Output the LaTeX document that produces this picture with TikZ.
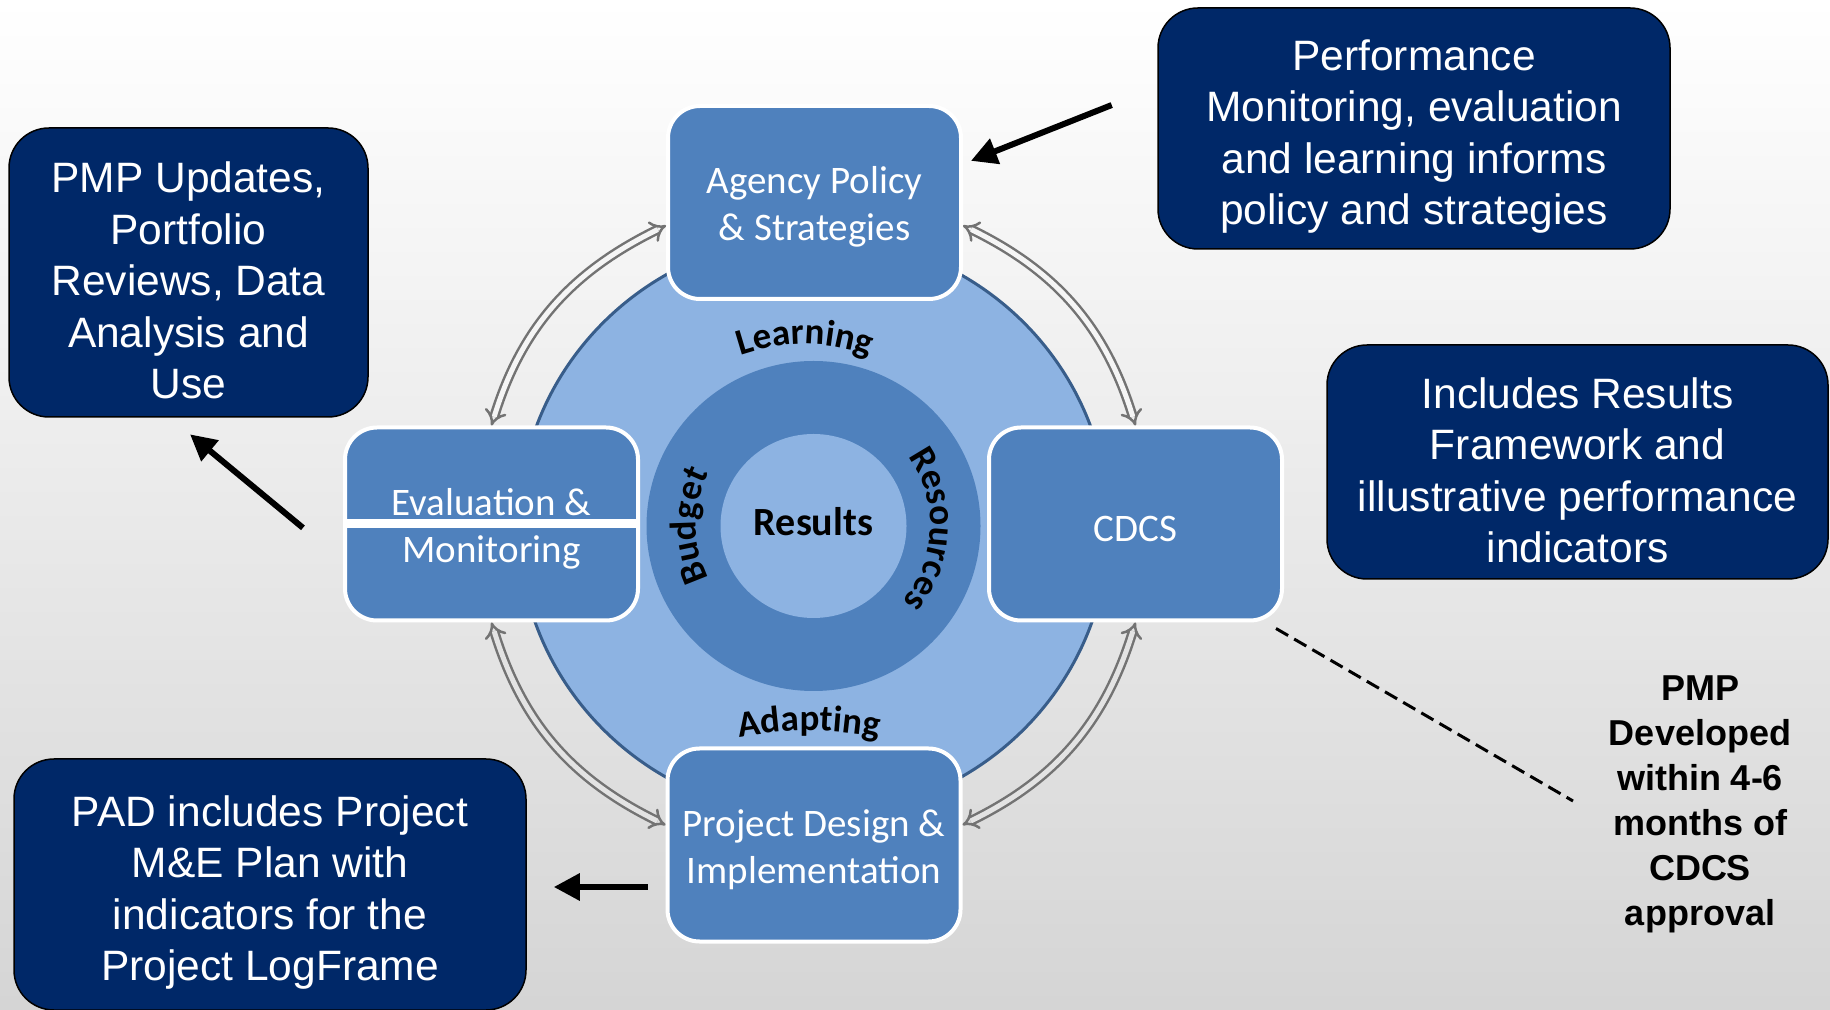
\documentclass[tikz,border=0pt]{standalone}
\usepackage{fontspec}
\setmainfont{Liberation Sans}
\newfontfamily\calfont{Carlito}
\usetikzlibrary{arrows.meta,decorations.text,calc}
\definecolor{boxblue}{HTML}{4F81BD}
\definecolor{lightblue}{HTML}{8DB3E2}
\definecolor{navy}{HTML}{002868}
\definecolor{ringedge}{HTML}{385D8A}
\definecolor{arcgray}{HTML}{737373}
\newcommand\boxfont{\calfont\fontsize{39}{47}\selectfont}
\newcommand\darkfont{\fontsize{42.5}{51.5}\selectfont}
\newcommand\curvefont{\calfont\bfseries\fontsize{37}{40}\selectfont}
\newcommand\dstrut{\rule{0pt}{47pt}}
\newcommand\bstrut{\rule{0pt}{36pt}}
\begin{document}
\begin{tikzpicture}[x=1pt,y=1pt,
  bluebox/.style={draw=white, line width=4pt, fill=boxblue, rounded corners=32pt,
    minimum width=293pt, minimum height=193pt, text=white, align=center,
    font=\boxfont, inner sep=0pt},
  darkbox/.style={draw=black, line width=1.5pt, fill=navy, rounded corners=40pt,
    text=white, align=center, font=\darkfont, inner sep=0pt},
  dbl/.style={draw=arcgray, line width=2.5pt, double distance=5pt,
    {Implies[length=16pt,width=34pt]}-{Implies[length=16pt,width=34pt]}},
  bigarrow/.style={draw=black, line width=6pt, -{Triangle[length=26pt,width=26pt]}},
  curved/.style={decoration={text along path, text align=center, text={|\curvefont|#1}}, decorate}
]
\useasboundingbox (0,0) rectangle (1830,1009);
\shade[top color=white, bottom color=gray!33] (0,0) rectangle (1830,1009);

% central disc
\coordinate (ctr) at (813.5,483);
\draw[fill=lightblue, draw=ringedge, line width=3pt] (ctr) ellipse [x radius=295, y radius=290];
\fill[boxblue] (ctr) ellipse [x radius=167, y radius=165];
\fill[lightblue] (ctr) ellipse [x radius=93, y radius=92];
\node[font=\calfont\bfseries\fontsize{40}{44}\selectfont] (results) at (813.5,487) {Results};

% curved labels
\path[curved=Learning] (730,650) to[bend left=20] (880,650);
\path[curved=Adapting] (729,270) to[bend left=10] (889,270);
\path[curved=Budget] ($(ctr)+(215:117)$) arc[start angle=215, end angle=145, radius=117];
\path[curved=Resources] ($(ctr)+(48:117)$) arc[start angle=48, end angle=-52, radius=117];

% blue boxes
\node[bluebox] (agency) at (814.5,806.5) {\bstrut Agency Policy\\\& Strategies};
\node[bluebox] (eval) at (491.5,485) {\bstrut Evaluation \&\\Monitoring};
\node[bluebox] (cdcs) at (1135.5,485) {\bstrut CDCS};
\node[bluebox] (proj) at (814,164) {\bstrut Project Design \&\\Implementation};
\draw[white, line width=9pt] (eval.west) -- (eval.east);

% cycle arrows
\draw[dbl, double=gray!8] (eval.north) to[out=73,in=206] ([yshift=-23]agency.west);
\draw[dbl, double=gray!8] ([yshift=-23]agency.east) to[out=-26,in=107] (cdcs.north);
\draw[dbl, double=gray!22] (cdcs.south) to[out=-107,in=26] ([yshift=20]proj.east);
\draw[dbl, double=gray!22] ([yshift=20]proj.west) to[out=154,in=287] (eval.south);

% dark boxes
\node[darkbox, minimum width=512pt, minimum height=241pt] (tr) at (1414,880.5)
  {\dstrut Performance\\Monitoring, evaluation\\and learning informs\\policy and strategies};
\node[darkbox, minimum width=359pt, minimum height=289pt] (lb) at (188.5,736.5)
  {\dstrut PMP Updates,\\Portfolio\\Reviews, Data\\Analysis and\\Use};
\node[darkbox, minimum width=501pt, minimum height=234pt] (rb) at (1577.5,547)
  {\dstrut Includes Results\\Framework and\\illustrative performance\\indicators};
\node[darkbox, minimum width=512pt, minimum height=251pt] (bl) at (270,124.5)
  {\dstrut PAD includes Project\\M\&E Plan with\\indicators for the\\Project LogFrame};

\node[font=\bfseries\fontsize{36}{45}\selectfont, align=center, inner sep=0pt] (pmp) at (1700,205)
  {PMP\\Developed\\within 4-6\\months of\\CDCS\\approval};

% black arrows
\draw[bigarrow, shorten <=49pt, shorten >=8.5pt] ([yshift=41.5]tr.west) -- ([yshift=38.5]agency.east);
\draw[bigarrow, shorten <=52pt, shorten >=26pt] ([yshift=-37]eval.west) -- ([xshift=-18.5]lb.south);
\draw[bigarrow, shorten <=18pt, shorten >=27pt] ([yshift=-42]proj.west) -- ([yshift=-42]proj.west -| bl.east);

% dashed line
\coordinate (dashend) at (1573,208);
\draw[line width=3pt, dash pattern=on 14pt off 7pt] ([shift={(-8,-6)}]cdcs.south east) -- (dashend);
\end{tikzpicture}
\end{document}
